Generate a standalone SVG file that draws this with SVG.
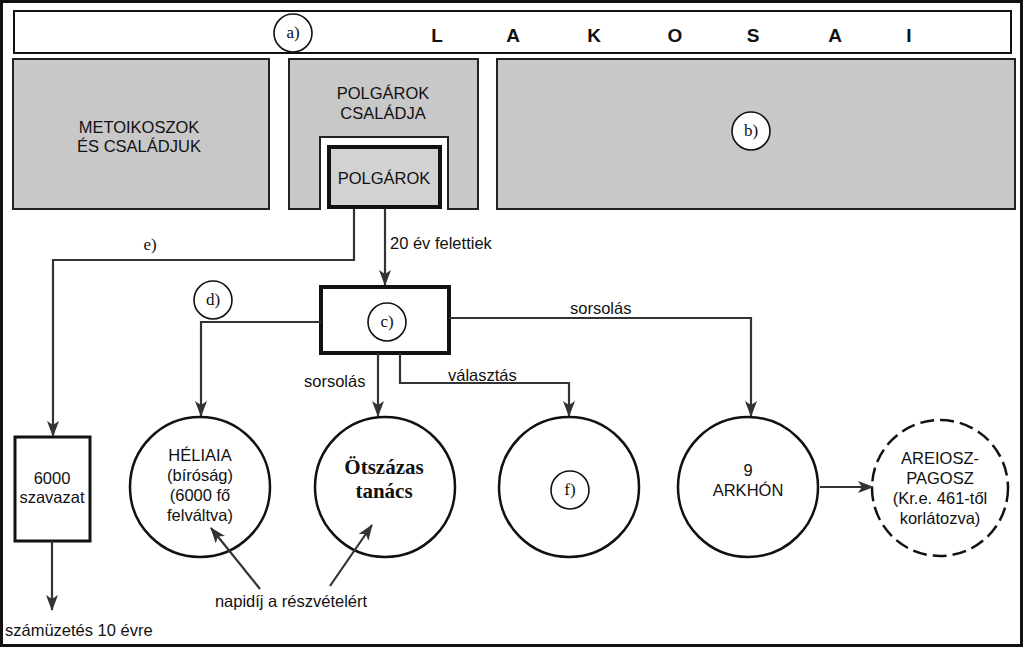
<svg xmlns="http://www.w3.org/2000/svg" width="1024" height="648" viewBox="0 0 1024 648">
<defs>
<marker id="ah" viewBox="0 0 16 12" refX="15" refY="6" markerWidth="16" markerHeight="12" markerUnits="userSpaceOnUse" orient="auto">
<path d="M0,0 L16,6 L0,12 L4,6 Z" fill="#333"/>
</marker>
<style>
.sans{font-family:"Liberation Sans",Arial,sans-serif;fill:#111}
.serif{font-family:"Liberation Serif","Times New Roman",serif;fill:#111}
.lbl{font-size:16.5px}
.tagt{font-size:17px}
.big{font-size:19px;font-weight:bold}
.gray{fill:#c8c8c8;stroke:#222;stroke-width:2}
.tag{fill:#fff;stroke:#111;stroke-width:1.6}
.conn{fill:none;stroke:#333;stroke-width:2.2;marker-end:url(#ah)}
.circ{fill:#fff;stroke:#111;stroke-width:2.5}
</style>
</defs>
<rect x="0" y="0" width="1024" height="648" fill="#fff"/>
<rect x="1.5" y="1.5" width="1020" height="644" fill="none" stroke="#111" stroke-width="3"/>

<g id="lakosai">
<rect x="14" y="11" width="997" height="42" fill="#fff" stroke="#111" stroke-width="2"/>
<g class="sans big">
<text x="437" y="42" text-anchor="middle">L</text>
<text x="513" y="42" text-anchor="middle">A</text>
<text x="594" y="42" text-anchor="middle">K</text>
<text x="675" y="42" text-anchor="middle">O</text>
<text x="753" y="42" text-anchor="middle">S</text>
<text x="835" y="42" text-anchor="middle">A</text>
<text x="909" y="42" text-anchor="middle">I</text>
</g>
<circle class="tag" cx="293" cy="33" r="19"/>
<text class="serif tagt" x="293" y="38" text-anchor="middle">a)</text>
</g>

<g id="metoikoszok">
<rect class="gray" x="13" y="59" width="256" height="150"/>
<text class="sans lbl" x="139" y="133" text-anchor="middle">METOIKOSZOK</text>
<text class="sans lbl" x="139" y="152" text-anchor="middle">ÉS CSALÁDJUK</text>
</g>

<g id="polgarok-csaladja">
<path class="gray" d="M289,59 H478 V209 H448 V137 H320 V209 H289 Z"/>
<text class="sans lbl" x="383" y="99" text-anchor="middle">POLGÁROK</text>
<text class="sans lbl" x="383" y="119" text-anchor="middle">CSALÁDJA</text>
</g>

<g id="polgarok">
<rect x="329" y="147" width="111" height="60" fill="#d2d2d2" stroke="#111" stroke-width="4"/>
<text class="sans lbl" x="384" y="184" text-anchor="middle">POLGÁROK</text>
</g>

<g id="b-box">
<rect class="gray" x="497" y="59" width="518" height="150"/>
<circle class="tag" cx="751" cy="131" r="19"/>
<text class="serif tagt" x="751" y="136" text-anchor="middle">b)</text>
</g>

<g id="c-box">
<rect x="321" y="287" width="128" height="66" fill="#fff" stroke="#111" stroke-width="4"/>
<circle class="tag" cx="387" cy="322" r="19"/>
<text class="serif tagt" x="387" y="327" text-anchor="middle">c)</text>
</g>

<g id="d-tag">
<circle class="tag" cx="213" cy="300" r="19"/>
<text class="serif tagt" x="213" y="305" text-anchor="middle">d)</text>
</g>

<g id="szavazat">
<rect x="15" y="437" width="75" height="104" fill="#fff" stroke="#111" stroke-width="3"/>
<text class="sans lbl" x="52" y="484" text-anchor="middle">6000</text>
<text class="sans lbl" x="52" y="503" text-anchor="middle">szavazat</text>
</g>

<g id="heliaia">
<circle class="circ" cx="200" cy="487" r="70"/>
<text class="sans lbl" x="200" y="461" text-anchor="middle">HÉLIAIA</text>
<text class="sans lbl" x="200" y="481" text-anchor="middle">(bíróság)</text>
<text class="sans lbl" x="200" y="501" text-anchor="middle">(6000 fő</text>
<text class="sans lbl" x="200" y="521" text-anchor="middle">felváltva)</text>
</g>

<g id="otszazas">
<circle class="circ" cx="385" cy="487" r="70"/>
<text class="serif" x="384" y="474" text-anchor="middle" font-size="21" font-weight="bold">Ötszázas</text>
<text class="serif" x="384" y="498" text-anchor="middle" font-size="21" font-weight="bold">tanács</text>
</g>

<g id="f-node">
<circle class="circ" cx="569" cy="487" r="70"/>
<circle class="tag" cx="570" cy="490" r="19"/>
<text class="serif tagt" x="570" y="495" text-anchor="middle">f)</text>
</g>

<g id="arkhon">
<circle class="circ" cx="748" cy="487" r="70"/>
<text class="sans lbl" x="748" y="476" text-anchor="middle">9</text>
<text class="sans lbl" x="748" y="496" text-anchor="middle">ARKHÓN</text>
</g>

<g id="areiosz">
<circle cx="940" cy="488" r="68" fill="#fff" stroke="#111" stroke-width="2.5" stroke-dasharray="14,6"/>
<text class="sans lbl" x="940" y="464" text-anchor="middle">AREIOSZ-</text>
<text class="sans lbl" x="940" y="484" text-anchor="middle">PAGOSZ</text>
<text class="sans lbl" x="940" y="504" text-anchor="middle">(Kr.e. 461-től</text>
<text class="sans lbl" x="940" y="524" text-anchor="middle">korlátozva)</text>
</g>

<g id="connectors">
<path class="conn" d="M354,209 V260 H53 V436"/>
<path class="conn" d="M385,209 V285"/>
<path class="conn" d="M321,322 H201 V416"/>
<path class="conn" d="M378,353 V416"/>
<path class="conn" d="M400,353 V383 H569 V416"/>
<path class="conn" d="M449,318 H751 V416"/>
<path class="conn" d="M52,541 V610"/>
<path class="conn" d="M820,487 H873" stroke-width="3"/>
<path class="conn" d="M260,589 L211,528"/>
<path class="conn" d="M330,586 L372,525"/>
</g>

<g id="labels">
<text class="serif tagt" x="150" y="250" text-anchor="middle">e)</text>
<text class="sans lbl" x="390" y="249">20 év felettiek</text>
<text class="sans lbl" x="304" y="387">sorsolás</text>
<text class="sans lbl" x="448" y="381">választás</text>
<text class="sans lbl" x="570" y="314">sorsolás</text>
<text class="sans lbl" x="291" y="607" text-anchor="middle">napidíj a részvételért</text>
<text class="sans lbl" x="5" y="636">számüzetés 10 évre</text>
</g>
</svg>
